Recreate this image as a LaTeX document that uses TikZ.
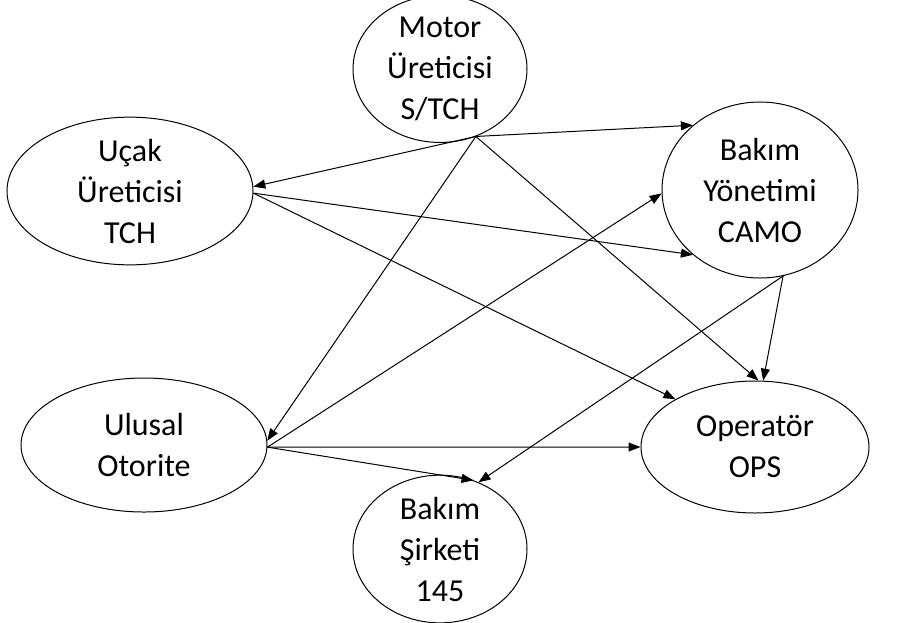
\documentclass[tikz,border=0pt]{standalone}
\usepackage{fontspec}
\setmainfont{Carlito}
\usetikzlibrary{shapes.geometric,arrows.meta}
\tikzset{
  ent/.style={draw, ellipse, inner sep=0pt, line width=1pt, align=center,
    font=\fontsize{32}{41}\selectfont},
  rel/.style={line width=1pt, -{Triangle[length=12pt,width=9pt]}}
}
\begin{document}
\begin{tikzpicture}[x=1pt,y=-1pt]
\useasboundingbox (0,0) rectangle (901,622);
\node[ent, minimum width=174pt, minimum height=128pt] (motor) at (440,69) {Motor\\Üreticisi\\S/TCH};
\node[ent, minimum width=246pt, minimum height=132pt] (ucak) at (130,191) {Uçak\\Üreticisi\\TCH};
\node[ent, minimum width=196pt, minimum height=176pt] (camo) at (760,190) {Bakım\\Yönetimi\\CAMO};
\node[ent, minimum width=246pt, minimum height=134pt] (ulusal) at (144,445) {Ulusal\\Otorite};
\node[ent, minimum width=228pt, minimum height=132pt] (ops) at (755,447) {Operatör\\OPS};
\node[ent, minimum width=174pt, minimum height=136pt] (sirket) at (440,549) {Bakım\\Şirketi\\145};

\draw[rel] (motor.-62) -- (ucak.2);
\draw[rel] (motor.-62) -- (camo.136);
\draw[rel] (motor.-62) -- (ulusal.2);
\draw[rel] (motor.-62) -- (ops.87);
\draw[rel] (ucak.-1) -- (camo.224);
\draw[rel] (ucak.-1) -- (ops.149);
\draw[rel] (ulusal.-1) -- (camo.182);
\draw[rel] (ulusal.-1) -- (ops.180);
\draw[rel] (ulusal.-1) -- (sirket.64);
\draw[rel] (camo.-75) -- (ops.83);
\draw[rel] (camo.-75) -- (sirket.60);
\end{tikzpicture}
\end{document}
